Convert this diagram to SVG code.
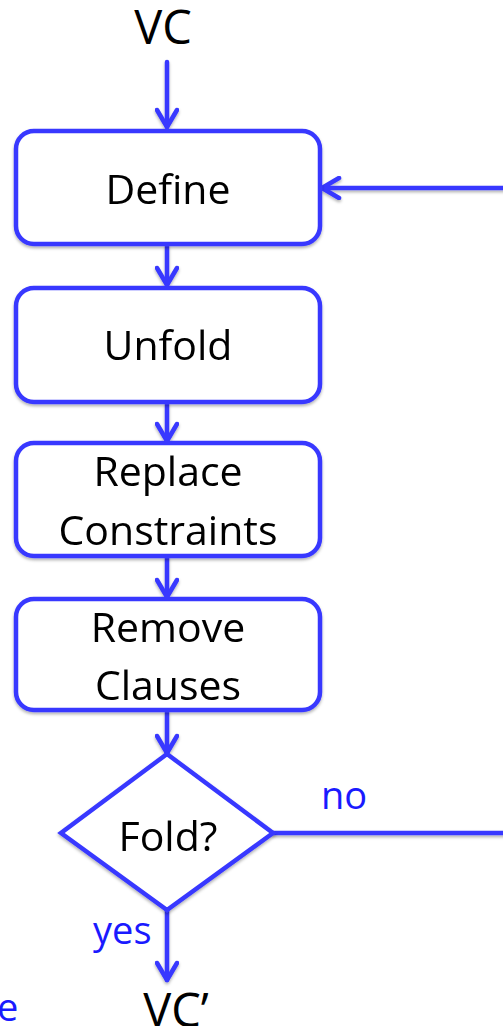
<svg xmlns="http://www.w3.org/2000/svg" width="503" height="1026" viewBox="0 0 503 1026">
  <style>
    .box { fill: #ffffff; stroke: #3838ff; stroke-width: 4.5; }
    .edge { fill: none; stroke: #3838ff; stroke-width: 4.5; stroke-linecap: round; stroke-linejoin: round; }
    .lbl { font-family: "Open Sans", "Liberation Sans", sans-serif; font-size: 41px; fill: #000000; text-anchor: middle; }
    .term { font-family: "Open Sans", "Liberation Sans", sans-serif; font-size: 47px; fill: #000000; text-anchor: middle; }
    .cond { font-family: "Open Sans", "Liberation Sans", sans-serif; font-size: 38px; fill: #1a1aff; }
  </style>
  <defs>
    <filter id="shadow" x="-10%" y="-10%" width="130%" height="140%">
      <feDropShadow dx="0" dy="2" stdDeviation="1.5" flood-color="#000000" flood-opacity="0.3"/>
    </filter>
    <marker id="arrow" viewBox="0 0 24 24" refX="20" refY="12" markerWidth="24" markerHeight="24" markerUnits="userSpaceOnUse" orient="auto">
      <path d="M3 2 L20 12 L3 22" fill="none" stroke="#3838ff" stroke-width="4.5" stroke-linecap="round" stroke-linejoin="round"/>
    </marker>
  </defs>

  <!-- connectors -->
  <g id="connectors" filter="url(#shadow)">
    <line class="edge" x1="167" y1="62" x2="167" y2="127" marker-end="url(#arrow)"/>
    <line class="edge" x1="167" y1="246" x2="167" y2="285" marker-end="url(#arrow)"/>
    <line class="edge" x1="167" y1="404" x2="167" y2="441" marker-end="url(#arrow)"/>
    <line class="edge" x1="167" y1="557" x2="167" y2="597" marker-end="url(#arrow)"/>
    <line class="edge" x1="167" y1="712" x2="167" y2="753" marker-end="url(#arrow)"/>
    <line class="edge" x1="167" y1="910" x2="167" y2="980" marker-end="url(#arrow)"/>
    <line class="edge" x1="273" y1="833" x2="505" y2="833"/>
    <line class="edge" x1="505" y1="188" x2="322" y2="188" marker-end="url(#arrow)"/>
  </g>

  <!-- input / output terms -->
  <g id="vc-in">
    <text class="term" x="163" y="44">VC</text>
  </g>
  <g id="vc-out">
    <text class="term" x="176" y="1027">VC’</text>
  </g>

  <!-- steps -->
  <g id="define" filter="url(#shadow)">
    <rect class="box" x="16" y="131" width="304" height="113" rx="18"/>
    <text class="lbl" x="168" y="204">Define</text>
  </g>
  <g id="unfold" filter="url(#shadow)">
    <rect class="box" x="16" y="288" width="304" height="114" rx="18"/>
    <text class="lbl" x="168" y="360">Unfold</text>
  </g>
  <g id="replace" filter="url(#shadow)">
    <rect class="box" x="16" y="443" width="304" height="113" rx="18"/>
    <text class="lbl" x="168" y="486">Replace</text>
    <text class="lbl" x="168" y="545">Constraints</text>
  </g>
  <g id="remove" filter="url(#shadow)">
    <rect class="box" x="16" y="599" width="304" height="111" rx="18"/>
    <text class="lbl" x="168" y="642">Remove</text>
    <text class="lbl" x="168" y="700">Clauses</text>
  </g>

  <!-- decision -->
  <g id="fold" filter="url(#shadow)">
    <polygon class="box" points="167,754 273,833 167,910 61,833"/>
    <text class="lbl" x="168" y="851">Fold?</text>
  </g>

  <!-- branch labels -->
  <g id="labels">
    <text class="cond" x="321" y="809">no</text>
    <text class="cond" x="93" y="944">yes</text>
    <text class="cond" x="-3" y="1021" font-size="44" fill="#3b3bff">e</text>
  </g>
</svg>
